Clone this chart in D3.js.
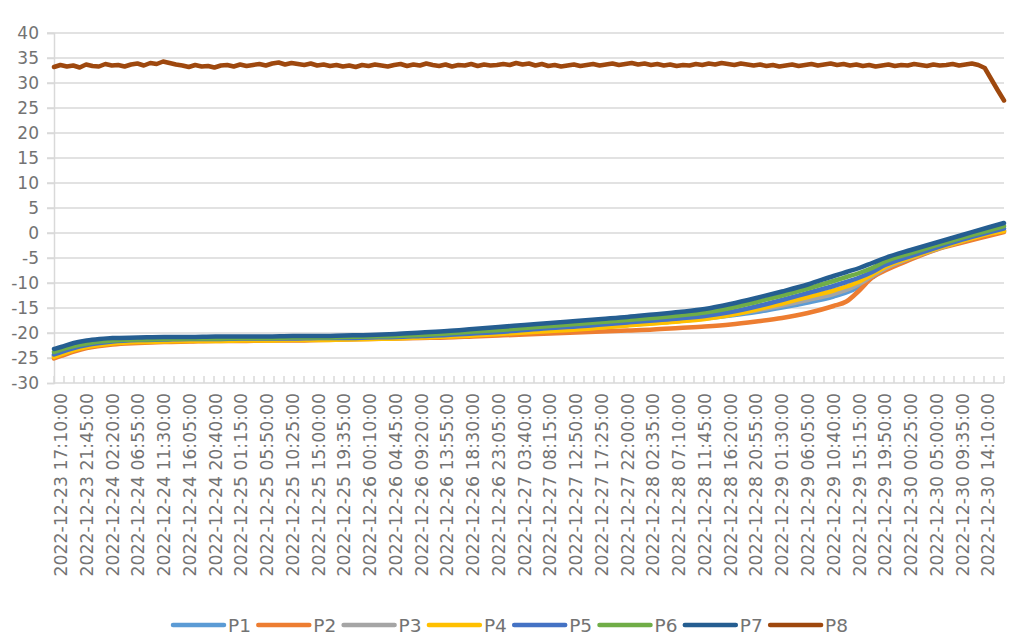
<!DOCTYPE html>
<html><head><meta charset="utf-8">
<script src="https://cdn.jsdelivr.net/npm/d3@7/dist/d3.min.js"></script>
<style>
html,body{margin:0;padding:0;background:#fff;}
svg{display:block;}
text{font-family:"DejaVu Sans",sans-serif;fill:#737373;}
</style></head>
<body><svg id="chart" width="1024" height="644"></svg>
<script>
// Category labels (every 4h35m)
const labels = ["2022-12-23 17:10:00","2022-12-23 21:45:00","2022-12-24 02:20:00","2022-12-24 06:55:00","2022-12-24 11:30:00","2022-12-24 16:05:00","2022-12-24 20:40:00","2022-12-25 01:15:00","2022-12-25 05:50:00","2022-12-25 10:25:00","2022-12-25 15:00:00","2022-12-25 19:35:00","2022-12-26 00:10:00","2022-12-26 04:45:00","2022-12-26 09:20:00","2022-12-26 13:55:00","2022-12-26 18:30:00","2022-12-26 23:05:00","2022-12-27 03:40:00","2022-12-27 08:15:00","2022-12-27 12:50:00","2022-12-27 17:25:00","2022-12-27 22:00:00","2022-12-28 02:35:00","2022-12-28 07:10:00","2022-12-28 11:45:00","2022-12-28 16:20:00","2022-12-28 20:55:00","2022-12-29 01:30:00","2022-12-29 06:05:00","2022-12-29 10:40:00","2022-12-29 15:15:00","2022-12-29 19:50:00","2022-12-30 00:25:00","2022-12-30 05:00:00","2022-12-30 09:35:00","2022-12-30 14:10:00"];

// Sample positions in label-interval units (0 = first label)
const pos = [-0.27,0,0.5,1,1.5,2,3,4,5,6,7,8,9,10,11,12,13,14,15,16,17,18,19,20,21,22,23,24,25,26,27,28,29,30,30.5,31,31.5,32,33,34,35,36,36.62];

const P1 = [-24.6,-24.1,-23.2,-22.6,-22.2,-21.9,-21.7,-21.6,-21.5,-21.5,-21.4,-21.4,-21.3,-21.3,-21.2,-21.1,-21.0,-20.8,-20.6,-20.4,-20.1,-19.8,-19.5,-19.2,-18.8,-18.4,-18.0,-17.6,-17.1,-16.5,-15.8,-14.9,-13.9,-12.7,-11.9,-10.7,-8.9,-7.2,-5.0,-3.2,-1.7,-0.2,0.4];
const P2 = [-25.1,-24.6,-23.7,-23.0,-22.6,-22.3,-22.0,-21.8,-21.7,-21.6,-21.6,-21.5,-21.5,-21.4,-21.3,-21.2,-21.1,-21.0,-20.9,-20.7,-20.5,-20.3,-20.1,-19.9,-19.7,-19.5,-19.3,-19.0,-18.7,-18.3,-17.7,-17.0,-16.0,-14.6,-13.7,-11.5,-8.9,-7.5,-5.3,-3.3,-1.9,-0.6,0.2];
const P3 = [-24.5,-24.0,-23.1,-22.5,-22.1,-21.8,-21.6,-21.5,-21.4,-21.4,-21.3,-21.3,-21.2,-21.2,-21.1,-21.0,-20.9,-20.7,-20.5,-20.3,-20.0,-19.7,-19.4,-19.1,-18.7,-18.3,-17.9,-17.5,-17.0,-16.3,-15.5,-14.5,-13.4,-12.2,-11.4,-10.2,-8.6,-7.1,-5.0,-3.2,-1.6,-0.1,0.5];
const P4 = [-24.8,-24.3,-23.4,-22.8,-22.4,-22.1,-21.8,-21.7,-21.6,-21.6,-21.5,-21.5,-21.4,-21.4,-21.3,-21.2,-21.1,-20.9,-20.7,-20.5,-20.2,-19.9,-19.6,-19.3,-18.9,-18.5,-18.1,-17.7,-17.2,-16.4,-15.3,-14.1,-12.8,-11.5,-10.7,-9.7,-8.3,-6.8,-4.9,-3.1,-1.6,-0.2,0.4];
const P5 = [-24.3,-23.8,-23.0,-22.4,-22.0,-21.7,-21.4,-21.3,-21.2,-21.2,-21.1,-21.1,-21.1,-21.0,-21.0,-20.9,-20.8,-20.6,-20.4,-20.1,-19.8,-19.4,-19.0,-18.7,-18.3,-17.9,-17.5,-17.1,-16.6,-15.8,-14.7,-13.4,-12.0,-10.6,-9.8,-8.9,-7.8,-6.4,-4.6,-2.9,-1.3,0.1,0.9];
const P6 = [-23.8,-23.3,-22.6,-22.1,-21.7,-21.5,-21.3,-21.2,-21.1,-21.1,-21.0,-21.0,-20.9,-20.9,-20.8,-20.7,-20.6,-20.4,-20.1,-19.7,-19.4,-19.0,-18.6,-18.2,-17.8,-17.4,-17.0,-16.5,-15.9,-15.0,-13.8,-12.5,-11.1,-9.6,-8.8,-8.0,-7.0,-5.7,-4.0,-2.4,-0.9,0.5,1.4];
const P7 = [-23.2,-22.8,-22.0,-21.5,-21.2,-21.0,-20.9,-20.8,-20.8,-20.7,-20.7,-20.7,-20.6,-20.6,-20.5,-20.4,-20.2,-19.9,-19.6,-19.2,-18.8,-18.4,-18.0,-17.6,-17.2,-16.8,-16.3,-15.8,-15.2,-14.2,-13.0,-11.7,-10.3,-8.6,-7.8,-7.0,-6.0,-5.0,-3.4,-1.9,-0.4,1.1,2.0];

// P8: evenly spaced readings from first to last sample position
const P8 = [33.2,33.6,33.3,33.5,33.1,33.7,33.4,33.3,33.8,33.5,
33.6,33.3,33.7,33.9,33.5,34.0,33.8,34.3,34.0,33.7,
33.5,33.2,33.6,33.3,33.4,33.1,33.5,33.6,33.3,33.7,
33.4,33.6,33.8,33.5,33.9,34.1,33.7,34.0,33.8,33.6,
33.9,33.5,33.7,33.4,33.6,33.3,33.5,33.2,33.6,33.4,
33.7,33.5,33.3,33.6,33.8,33.4,33.7,33.5,33.9,33.6,
33.4,33.7,33.3,33.6,33.5,33.8,33.4,33.7,33.5,33.6,
33.8,33.6,34.0,33.7,33.9,33.5,33.8,33.4,33.6,33.3,
33.5,33.7,33.4,33.6,33.8,33.5,33.7,33.9,33.6,33.8,
34.0,33.7,33.9,33.6,33.8,33.5,33.7,33.4,33.6,33.5,
33.8,33.6,33.9,33.7,34.0,33.8,33.6,33.9,33.7,33.5,
33.7,33.4,33.6,33.3,33.5,33.7,33.4,33.6,33.8,33.5,
33.7,33.9,33.6,33.8,33.5,33.7,33.4,33.6,33.3,33.5,
33.7,33.4,33.6,33.5,33.8,33.6,33.4,33.7,33.5,33.6,
33.8,33.5,33.7,33.9,33.6,33.0,30.8,28.6,26.5];

const seriesNames = ["P1","P2","P3","P4","P5","P6","P7","P8"];
const seriesColors = ["#5B9BD5","#ED7D31","#A5A5A5","#FFC000","#4472C4","#70AD47","#255E91","#9E480E"];
const yTicks = [-30,-25,-20,-15,-10,-5,0,5,10,15,20,25,30,35,40];

// ---- build
const svg = d3.select("#chart");
const plot = {left:54, right:1004, top:33, bottom:383};
const x = d3.scaleLinear().domain([pos[0], pos[pos.length-1]]).range([plot.left, plot.right]);
const y = d3.scaleLinear().domain([-30,40]).range([plot.bottom, plot.top]);

// gridlines
svg.append("g").selectAll("line").data(yTicks.filter(v=>v>-30)).join("line")
  .attr("x1", plot.left-7).attr("x2", plot.right)
  .attr("y1", d=>y(d)).attr("y2", d=>y(d))
  .attr("stroke","#d9d9d9").attr("stroke-width",1.5);

// y axis
const yAxis = svg.append("g").attr("transform",`translate(${plot.left},0)`)
  .call(d3.axisLeft(y).tickValues(yTicks).tickFormat(d=>String(d)).tickSize(7).tickPadding(8));
yAxis.select(".domain").attr("stroke","#d9d9d9").attr("stroke-width",1.5);
yAxis.selectAll(".tick line").attr("stroke","#d9d9d9").attr("stroke-width",1.5);
yAxis.selectAll("text").style("font-size","17px").attr("fill","#737373").attr("font-family","DejaVu Sans");

// x axis line + minor ticks
const tickStep = (pos[pos.length-1]-pos[0])/95;
const minorTicks = d3.range(96).map(k => pos[0] + k*tickStep);
svg.append("line").attr("x1",plot.left).attr("x2",plot.right)
  .attr("y1",plot.bottom).attr("y2",plot.bottom)
  .attr("stroke","#d9d9d9").attr("stroke-width",1.5);
svg.append("g").selectAll("line").data(minorTicks).join("line")
  .attr("x1",d=>x(d)).attr("x2",d=>x(d))
  .attr("y1",plot.bottom).attr("y2",plot.bottom-7)
  .attr("stroke","#d9d9d9").attr("stroke-width",1.5);

// x labels
svg.append("g").selectAll("text").data(labels).join("text")
  .attr("transform",(d,i)=>`translate(${x(i)},${plot.bottom+10}) rotate(-90)`)
  .attr("text-anchor","end").attr("dy","0.36em")
  .style("font-size","17.3px").text(d=>d);

// lines
const lowSeries = [P1,P2,P3,P4,P5,P6,P7];
const lineLow = d3.line().x(d=>x(d[0])).y(d=>y(d[1])).curve(d3.curveMonotoneX);
const g = svg.append("g");
lowSeries.forEach((vals,si)=>{
  g.append("path").datum(pos.map((p,i)=>[p,vals[i]]))
   .attr("d",lineLow).attr("fill","none")
   .attr("stroke",seriesColors[si]).attr("stroke-width",4.5)
   .attr("stroke-linejoin","round").attr("stroke-linecap","round");
});
const p8Step = (pos[pos.length-1]-pos[0])/(P8.length-1);
const lineP8 = d3.line().x(d=>x(d[0])).y(d=>y(d[1]));
g.append("path").datum(P8.map((v,i)=>[pos[0]+i*p8Step, v]))
  .attr("d",lineP8).attr("fill","none")
  .attr("stroke",seriesColors[7]).attr("stroke-width",4.5)
  .attr("stroke-linejoin","round").attr("stroke-linecap","round");

// legend
const leg = svg.append("g").selectAll("g").data(seriesNames).join("g")
  .attr("transform",(d,i)=>`translate(${173 + i*85.3},625)`);
leg.append("line").attr("x1",0).attr("x2",51).attr("y1",0).attr("y2",0)
  .attr("stroke",(d,i)=>seriesColors[i]).attr("stroke-width",4.5).attr("stroke-linecap","round");
leg.append("text").attr("x",55).attr("dy","0.36em").style("font-size","18.5px").text(d=>d);
</script></body></html>
